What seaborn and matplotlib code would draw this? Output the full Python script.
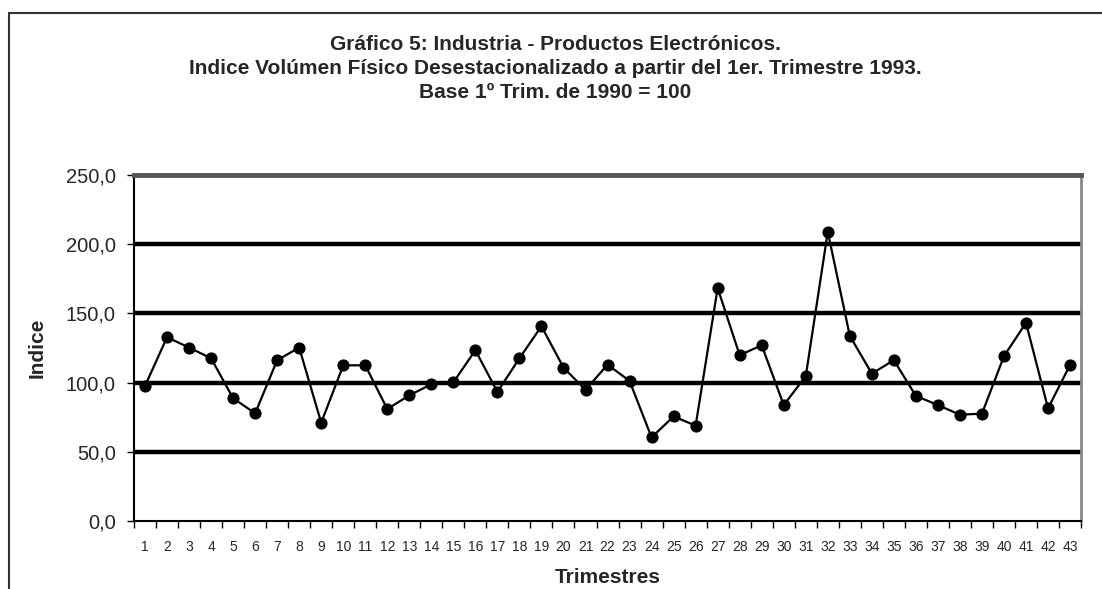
import pandas as pd
import numpy as np
import seaborn as sns
import matplotlib.pyplot as plt
import matplotlib.patches as patches
from matplotlib.ticker import FuncFormatter

# data
trimestres = list(range(1, 44))
indice = [97.6, 132.8, 125.3, 117.6, 88.7, 77.8, 116.2, 125.3, 71.0, 112.5,
          112.5, 80.9, 90.8, 98.8, 100.2, 123.4, 93.2, 117.6, 140.7, 110.9,
          94.7, 113.0, 101.2, 60.4, 75.6, 68.9, 168.3, 119.8, 127.0, 83.8,
          104.6, 209.0, 133.8, 106.5, 116.2, 90.4, 83.8, 76.8, 77.6, 119.1,
          143.2, 81.4, 112.8]
yticks = [0, 50, 100, 150, 200, 250]

titulo = ("Gráfico 5: Industria - Productos Electrónicos.\n"
          "Indice Volúmen Físico Desestacionalizado a partir del 1er. Trimestre 1993.\n"
          "Base 1º Trim. de 1990 = 100")

df = pd.DataFrame({'Trimestres': trimestres, 'Indice': indice})

sns.set_style('white')
plt.rcParams['font.family'] = ['Liberation Sans', 'DejaVu Sans']

fig = plt.figure(figsize=(11.02, 5.89), dpi=100)
ax = fig.add_axes([0.1216, 0.1154, 0.8594, 0.5875])

#gridlines (thick black like excel)
for v in yticks[1:-1]:
    ax.axhline(v, color='black', lw=3.2, zorder=1)

sns.lineplot(data=df, x='Trimestres', y='Indice', color='black', marker='o',
             markersize=8, linewidth=1.6, markeredgecolor='black', ax=ax, zorder=3)

ax.set_xlim(0.5, 43.5)
ax.set_ylim(0, 250)
ax.set_xticks(trimestres)
ax.set_xticklabels([str(t) for t in trimestres], fontsize=10)
ax.set_xticks(np.arange(0.5, 44.0, 1.0), minor=True)
ax.tick_params(axis='x', which='major', length=0, pad=14)
ax.tick_params(axis='x', which='minor', length=5, width=1, direction='out',
               color='black', bottom=True)
ax.set_yticks(yticks)
ax.yaxis.set_major_formatter(FuncFormatter(lambda v, p: f"{v:.1f}".replace('.', ',')))
ax.tick_params(axis='y', length=5, width=1, direction='out', color='black',
               left=True, labelsize=14.5, pad=8)

for s in ['left', 'bottom']:
    ax.spines[s].set_color('black')
    ax.spines[s].set_linewidth(1.5)
ax.spines['top'].set_color('#555555')
ax.spines['top'].set_linewidth(3.5)
ax.spines['right'].set_color('#888888')
ax.spines['right'].set_linewidth(2)

ax.set_xlabel('Trimestres', fontsize=15, fontweight='bold', labelpad=10)
ax.set_ylabel('Indice', fontsize=15, fontweight='bold', labelpad=14)

fig.suptitle(titulo, x=0.504, y=0.94, fontsize=15, fontweight='bold',
             linespacing=1.32, va='top')

#outer chart border
border = patches.Rectangle((9/1102, -0.2), 1.2, 1.2 - 13/589, transform=fig.transFigure,
                           fill=False, edgecolor='#333333', lw=1.5)
fig.patches.append(border)

plt.savefig('out.png', dpi=100)
